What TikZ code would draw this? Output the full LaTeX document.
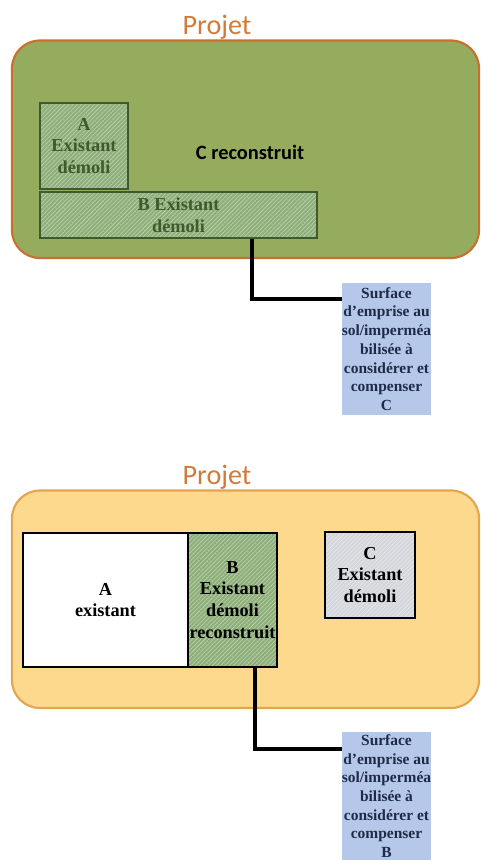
\documentclass[tikz,border=0pt]{standalone}
\usepackage{fontspec}
\setmainfont{Liberation Serif}
\newfontfamily\calibri{Carlito}
\usetikzlibrary{patterns}

\definecolor{projorange}{HTML}{D27A3A}
\definecolor{olivefill}{HTML}{95AB5E}
\definecolor{oliveedge}{HTML}{C8702E}
\definecolor{sandfill}{HTML}{FCD98C}
\definecolor{sandedge}{HTML}{E2A550}
\definecolor{hatchgreen}{HTML}{8DAF78}
\definecolor{hatchgrey}{HTML}{D4D6DC}
\definecolor{darkgreen}{HTML}{3E5A2E}
\definecolor{calloutblue}{HTML}{B6C8EA}
\definecolor{calloutnavy}{HTML}{1E2A48}

\begin{document}
\begin{tikzpicture}
        [x=0.025cm, y=-0.025cm,
        frame/.style={rectangle, rounded corners=0.7cm, line width=1.5pt},
        title/.style={font=\calibri\fontsize{20}{24}\selectfont, text=projorange},
        parcel/.style={rectangle, draw, line width=1pt, align=center, inner sep=0pt,
            font=\bfseries\fontsize{13}{15.5}\selectfont},
        hatched/.style={preaction={fill=#1}, pattern=north east lines, pattern color=white!45!#1},
        callout/.style={rectangle, fill=calloutblue, minimum width=2.175cm, minimum height=3.3cm,
            align=center, inner sep=0pt, text=calloutnavy, font=\bfseries\fontsize{11}{13.3}\selectfont},
        link/.style={line width=2.2pt}]

        \useasboundingbox (0,0) rectangle (480,861);

        % avant / apres : projet 1
        \node[title] (titleTop) at (217,27) {Projet};
        \node[frame, draw=oliveedge, fill=olivefill, minimum width=11.675cm, minimum height=5.4375cm]
            (frameTop) at (245.5,149.25) {};
        \node[parcel, hatched=hatchgreen, draw=darkgreen, text=darkgreen,
            minimum width=2.2cm, minimum height=2.15cm] (boxA1) at (84,146)
            {A\\Existant\\démoli};
        \node[parcel, hatched=hatchgreen, draw=darkgreen, text=darkgreen,
            minimum width=6.925cm, minimum height=1.15cm] (boxB1) at (178.5,215)
            {B Existant\\démoli};
        \node[font=\calibri\bfseries\fontsize{14.5}{17}\selectfont] (lblC1) at (250,152) {C reconstruit};
        \node[callout] (callC) at (386.5,349)
            {Surface\\d'emprise au\\sol/imperméa\\bilisée à\\considérer et\\compenser\\C};
        \coordinate (k1) at (252,299);
        \draw[link] (k1 |- boxB1.south) -- (k1) -- (callC.west |- k1);

        % projet 2
        \node[title] (titleBot) at (217,477) {Projet};
        \node[frame, draw=sandedge, fill=sandfill, minimum width=11.675cm, minimum height=5.4375cm]
            (frameBot) at (245.5,599.25) {};
        \node[parcel, fill=white, minimum width=4.125cm, minimum height=3.35cm] (boxA2) at (105.5,600)
            {A\\existant};
        \node[parcel, hatched=hatchgreen, minimum width=2.225cm, minimum height=3.35cm] (boxB2) at (232.5,600)
            {B\\Existant\\démoli\\reconstruit};
        \node[parcel, hatched=hatchgrey, minimum width=2.25cm, minimum height=2.15cm] (boxC2) at (370,575)
            {C\\Existant\\démoli};
        \node[callout, minimum height=3.2cm] (callB) at (386.5,796)
            {Surface\\d'emprise au\\sol/imperméa\\bilisée à\\considérer et\\compenser\\B};
        \coordinate (k2) at (255,749);
        \draw[link] (k2 |- boxB2.south) -- (k2) -- (callB.west |- k2);

    \end{tikzpicture}
\end{document}
